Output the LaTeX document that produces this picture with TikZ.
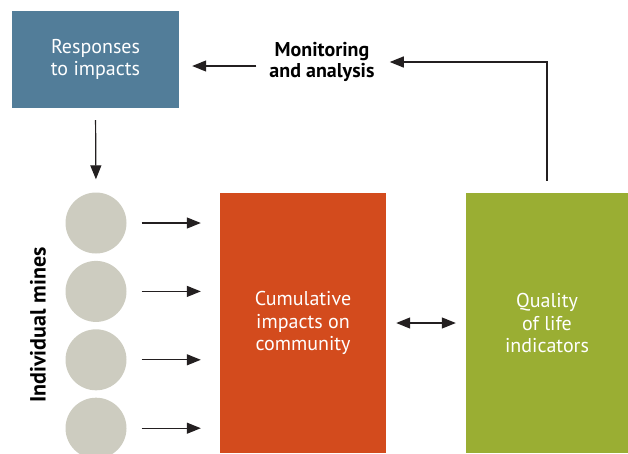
\documentclass[tikz,border=0pt]{standalone}
\usepackage{fontspec}
\setmainfont{PT Sans}
\usetikzlibrary{positioning,arrows.meta}

\definecolor{respblue}{HTML}{527D99}
\definecolor{cumorange}{HTML}{D34B1D}
\definecolor{qualgreen}{HTML}{9AAE33}
\definecolor{minegrey}{HTML}{CDCCC0}
\definecolor{arrowblack}{HTML}{231F20}

\begin{document}
\begin{tikzpicture}[x=1pt, y=-1pt, node distance={7pt},
  box/.style = {fill=#1, text=white, align=center, inner sep=0pt, font=\fontsize{20}{22.5}\selectfont},
  mine/.style = {circle, fill=minegrey, minimum size=61pt, inner sep=0pt},
  arr/.style = {-{Triangle[length=14pt,width=11pt]}, line width=1.2pt, draw=arrowblack},
  dblarr/.style = {{Triangle[length=14pt,width=11pt]}-{Triangle[length=14pt,width=11pt]}, line width=1.2pt, draw=arrowblack}]
  \useasboundingbox (0,0) rectangle (628,453);
  % boxes
  \node[box=respblue, minimum width=167pt, minimum height=97pt] (resp) at (95.5,59.5) {Responses\\to impacts};
  \node[box=cumorange, minimum width=166pt, minimum height=260pt] (cum) at (303,323) {Cumulative\\impacts on\\community};
  \node[box=qualgreen, minimum width=162pt, minimum height=260pt] (qual) at (547,323) {Quality\\of life\\indicators};
  \node[font=\fontsize{20}{21}\selectfont\bfseries, align=center, inner sep=0pt] (mon) at (322,62) {Monitoring\\and analysis};
  % mines
  \node[mine] (m1) at (96,223) {};
  \node[mine] (m2) [below=of m1] {};
  \node[mine] (m3) [below=of m2] {};
  \node[mine] (m4) [below=of m3] {};
  \node[rotate=90, font=\fontsize{22}{24}\selectfont\bfseries, inner sep=0pt] (lbl) at (38,325) {Individual mines};
  % arrows
  \draw[arr, shorten <=12pt, shorten >=13pt] (resp.south) -- (m1.north);
  \foreach \m in {m1,m2,m3,m4}
    \draw[arr, shorten <=15pt, shorten >=19pt] (\m.east) -- (\m.east -| cum.west);
  \draw[dblarr, shorten <=10pt, shorten >=10pt] (cum.east) -- (qual.west);
  \draw[arr, shorten <=12pt, shorten >=15pt] (qual.north) |- (mon.east);
  \draw[arr, shorten <=13pt, shorten >=13pt] ([yshift=-4pt]mon.west) -- ([yshift=-4pt]mon.west -| resp.east);
\end{tikzpicture}
\end{document}
